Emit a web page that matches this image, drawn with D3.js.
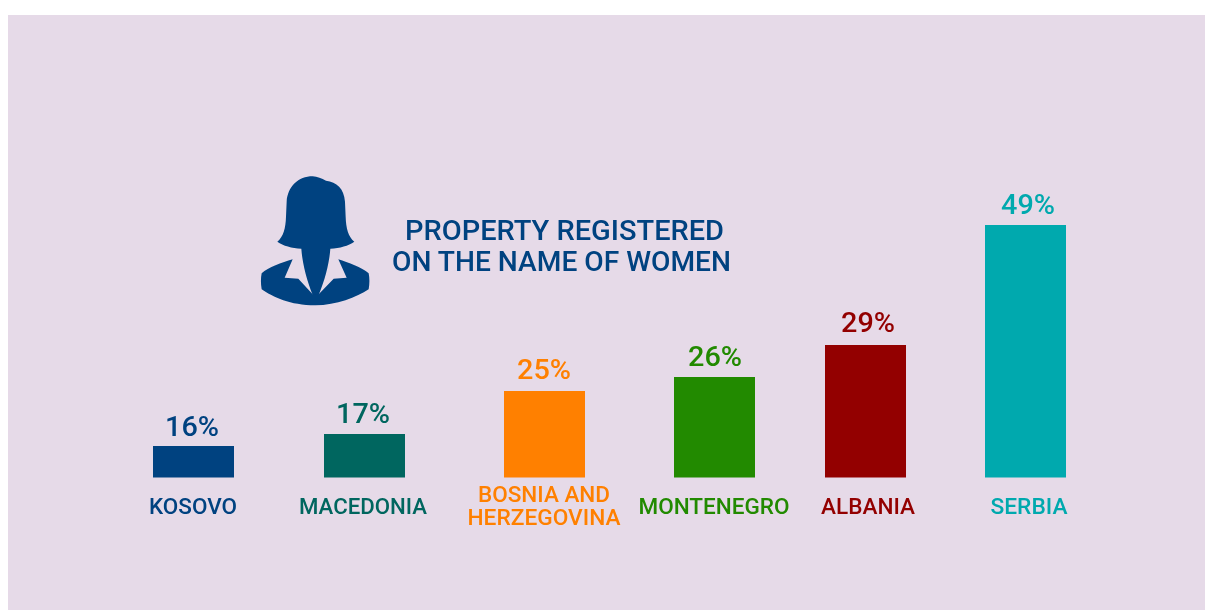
<!DOCTYPE html>
<html>
<head>
<meta charset="utf-8">
<script src="https://cdn.jsdelivr.net/npm/d3@7/dist/d3.min.js"></script>
<style>
html,body{margin:0;padding:0;background:#fff}
svg{display:block}
text{font-family:Roboto,sans-serif;font-weight:500}
</style>
</head>
<body>
<div id="chart"></div>
<script>
const categories = ["KOSOVO","MACEDONIA","BOSNIA AND HERZEGOVINA","MONTENEGRO","ALBANIA","SERBIA"];
const values = [16,17,25,26,29,49];
const colors = ["#004280","#00665e","#ff8000","#218a00","#930000","#00a9ae"];
const labelLines = [["KOSOVO"],["MACEDONIA"],["BOSNIA AND","HERZEGOVINA"],["MONTENEGRO"],["ALBANIA"],["SERBIA"]];
const title = ["PROPERTY REGISTERED","ON THE NAME OF WOMEN"];

// Layout, kept apart from the data
const W = 1205, H = 610, baseline = 477.5, barW = 81;
const labelWidths = [[88],[128],[132,153],[151],[94],[77]];
const labelCentres = [193,363,544,714,868,1029];
const valueCentres = [192,363,544,715,868,1028];
const valueGaps = [10,11,12,11,13,11];

const svg = d3.select("#chart").append("svg").attr("width",W).attr("height",H);
const defs = svg.append("defs");
defs.append("filter").attr("id","soft").attr("x","-5%").attr("y","-5%").attr("width","110%").attr("height","110%")
  .append("feGaussianBlur").attr("stdDeviation",0.55);
svg.append("rect").attr("x",8).attr("y",15).attr("width",W-8).attr("height",H-15).attr("fill","#e6dae8");
const root = svg.append("g").attr("filter","url(#soft)");

// The published bars are not proportional to their values: the scale is piecewise.
const y = d3.scaleLinear().domain(values).range([446,434,391,377,345,225]);
const x = d3.scaleOrdinal().domain(categories).range([153,324,504,674,825,985]);
const rows = categories.map((c,i)=>({c,v:values[i],col:colors[i],lines:labelLines[i],w:labelWidths[i],cx:labelCentres[i],vx:valueCentres[i],gap:valueGaps[i]}));

root.append("g").selectAll("rect").data(rows).join("rect")
  .attr("x",d=>x(d.c)).attr("y",d=>y(d.v)).attr("width",barW)
  .attr("height",d=>baseline-y(d.v)).attr("fill",d=>d.col);

root.append("g").selectAll("text").data(rows).join("text")
  .attr("x",d=>d.vx).attr("y",d=>y(d.v)-d.gap).attr("text-anchor","middle")
  .attr("font-size",28).attr("fill",d=>d.col)
  .attr("textLength",54).attr("lengthAdjust","spacingAndGlyphs")
  .text(d=>d.v+"%");

const lab = root.append("g").selectAll("g").data(rows).join("g");
lab.selectAll("text").data(d=>d.lines.map((t,i)=>({t,i,d}))).join("text")
  .attr("x",e=>e.d.cx).attr("y",e=>(e.d.lines.length>1?502:514)+e.i*23)
  .attr("text-anchor","middle").attr("font-size",22).attr("fill",e=>e.d.col)
  .attr("textLength",e=>e.d.w[e.i]).attr("lengthAdjust","spacingAndGlyphs")
  .text(e=>e.t);

const titleG = root.append("g").attr("fill","#004280").attr("font-size",28);
titleG.append("text").attr("x",405).attr("y",240).attr("textLength",319).attr("lengthAdjust","spacingAndGlyphs").text(title[0]);
titleG.append("text").attr("x",392).attr("y",271).attr("textLength",339).attr("lengthAdjust","spacingAndGlyphs").text(title[1]);

// Woman icon
const icon = root.append("g").attr("transform","translate(240,160) scale(0.3333)").attr("fill","#004280");
icon.append("path").attr("d","M218 49 C232 49 245 56 258 62 C290 66 312 85 315 125 L317 170 C318 205 325 230 343 245 C325 258 300 264 271 266 C268 310 255 360 236 405 L218 405 C200 360 187 310 184 266 C155 264 130 258 112 245 C130 230 137 205 138 170 L140 125 C143 80 175 49 218 49 Z");
icon.append("path").attr("d","M158 298 L134 353 L175 356 L218 403 L236 403 L281 356 L320 353 L295 298 C325 308 365 322 386 340 C389 355 389 370 386 388 C350 412 290 436 226 436 C150 436 100 412 65 388 C62 370 62 355 65 340 C85 322 125 308 158 298 Z");
</script>
</body>
</html>
